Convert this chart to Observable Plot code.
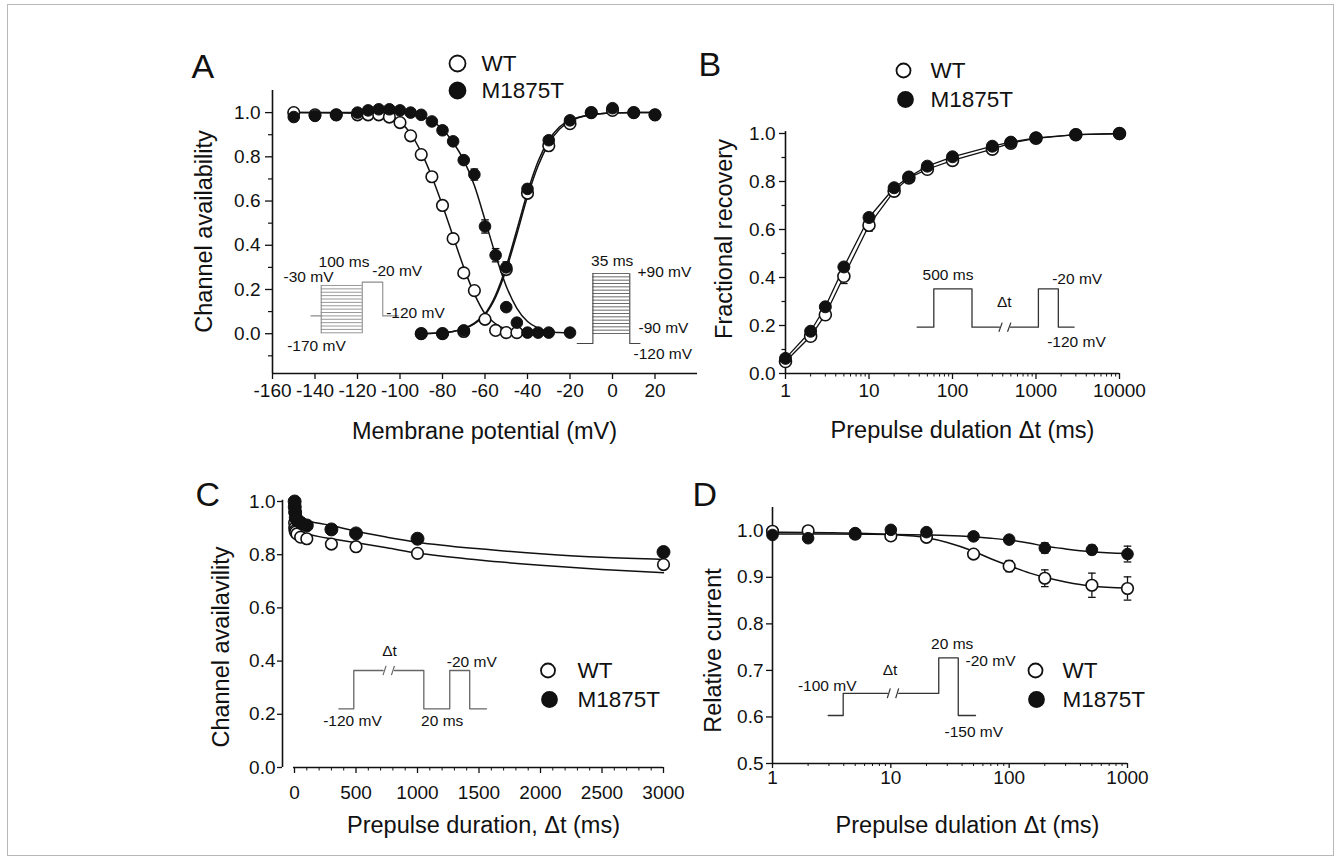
<!DOCTYPE html>
<html>
<head>
<meta charset="utf-8">
<script src="https://cdn.jsdelivr.net/npm/d3@7"></script>
<script src="https://cdn.jsdelivr.net/npm/@observablehq/plot@0.6"></script>
<style>
html,body{margin:0;padding:0;background:#fff;}
#fig{position:relative;width:1341px;height:861px;overflow:hidden;background:#fff;}
#fig svg{position:absolute;left:0;top:0;}
#frame{position:absolute;left:7px;top:4px;width:1327px;height:852px;border:1px solid #b8b8b8;box-sizing:border-box;}
</style>
</head>
<body>
<div id="fig"><div id="frame"></div></div>
<script>
// ================= DATA =================
// Panel A: steady-state inactivation (availability) and activation vs membrane potential (mV)
const aInactV_WT = [-150,-140,-130,-120,-115,-110,-105,-100,-95,-90,-85,-80,-75,-70,-65,-60,-55,-50,-45];
const aInactWT   = [1.00,0.99,0.99,0.99,0.99,0.99,0.98,0.955,0.895,0.81,0.71,0.58,0.43,0.275,0.195,0.065,0.015,0.005,0.005];
const aInactWTErr= [0,0,0,0,0,0,0,0,0,0,0,0.02,0.02,0.015,0,0,0,0,0];
const aInactV_MT = [-150,-140,-130,-120,-115,-110,-105,-100,-95,-90,-85,-80,-75,-70,-65,-60,-55,-50,-45,-40,-35,-30,-20];
const aInactMT   = [0.98,0.985,0.99,1.0,1.01,1.015,1.015,1.01,1.0,0.99,0.96,0.92,0.87,0.785,0.72,0.485,0.355,0.12,0.05,0.005,0.005,0.005,0.005];
const aInactMTErr= [0,0,0,0,0,0,0,0,0,0,0,0,0,0,0.025,0.03,0.03,0,0,0,0,0,0];
const aActV      = [-90,-80,-70,-50,-40,-30,-20,-10,0,10,20];
const aActWT     = [0.0,0.0,0.01,0.29,0.635,0.85,0.95,1.0,1.01,1.0,0.99];
const aActMT     = [0.0,0.0,0.015,0.30,0.655,0.875,0.965,1.0,1.02,1.0,0.99];
const aActMTErr  = [0,0,0,0.025,0.02,0.015,0,0,0,0,0];
// fitted curves
const aFitInactWTV = [-150,-120,-110,-105,-100,-95,-90,-85,-80,-75,-70,-65,-60,-55,-50,-45];
const aFitInactWT  = [1.0,0.997,0.99,0.98,0.957,0.905,0.82,0.71,0.58,0.44,0.30,0.18,0.09,0.045,0.02,0.01];
const aFitInactMTV = [-150,-110,-100,-95,-90,-85,-80,-75,-70,-65,-60,-55,-50,-45,-40,-35,-30,-25,-20];
const aFitInactMT  = [1.0,1.0,0.998,0.993,0.983,0.963,0.925,0.865,0.785,0.67,0.515,0.355,0.215,0.115,0.055,0.025,0.01,0.005,0.002];
const aFitActV     = [-90,-80,-75,-70,-65,-60,-55,-50,-45,-40,-35,-30,-25,-20,-10,0,10,20];
const aFitActWT    = [0.0,0.004,0.01,0.022,0.045,0.085,0.165,0.29,0.45,0.62,0.76,0.86,0.925,0.96,0.99,0.998,1.0,1.0];
const aFitActMT    = [0.0,0.004,0.01,0.024,0.048,0.09,0.175,0.305,0.47,0.64,0.78,0.875,0.935,0.965,0.99,0.998,1.0,1.0];
const aXTicks = [-160,-140,-120,-100,-80,-60,-40,-20,0,20];
const aYTicks = [0,0.2,0.4,0.6,0.8,1.0];
const aYMinor = [-0.1,0.1,0.3,0.5,0.7,0.9];

// Panel B: recovery from inactivation
const bT     = [1,2,3,5,10,20,30,50,100,300,500,1000,3000,10000];
const bWT    = [0.05,0.155,0.245,0.405,0.618,0.76,0.815,0.851,0.888,0.935,0.96,0.98,0.995,1.0];
const bMT    = [0.063,0.176,0.278,0.444,0.65,0.774,0.819,0.864,0.903,0.947,0.964,0.982,0.995,0.999];
const bWTErr = [0,0.01,0.02,0.03,0.025,0.02,0,0,0,0,0,0,0,0];
const bMTErr = [0,0,0.01,0.015,0.01,0.01,0,0,0,0,0,0,0,0];
const bXTicks = [1,10,100,1000,10000];
const bYTicks = [0,0.2,0.4,0.6,0.8,1.0];
const bYMinor = [0.1,0.3,0.5,0.7,0.9];

// Panel C: development of slow inactivation
const cT     = [1,2,5,10,20,50,100,300,500,1000,3000];
const cWT    = [0.92,0.90,0.89,0.885,0.878,0.866,0.86,0.84,0.83,0.805,0.763];
const cMT    = [1.0,0.98,0.96,0.94,0.93,0.92,0.91,0.895,0.88,0.86,0.81];
const cFitT  = [0,20,50,100,200,300,500,750,1000,1500,2000,2500,3000];
const cFitWT = [0.892,0.888,0.884,0.878,0.868,0.86,0.845,0.826,0.806,0.78,0.76,0.744,0.732];
const cFitMT = [0.945,0.94,0.935,0.928,0.918,0.91,0.888,0.866,0.847,0.822,0.804,0.79,0.782];
const cXTicks = [0,500,1000,1500,2000,2500,3000];
const cYTicks = [0,0.2,0.4,0.6,0.8,1.0];

// Panel D: closed-state inactivation
const dT     = [1,2,5,10,20,50,100,200,500,1000];
const dWT    = [0.999,1.0,0.993,0.989,0.986,0.950,0.924,0.898,0.883,0.876];
const dMT    = [0.991,0.984,0.995,1.002,0.997,0.988,0.981,0.963,0.959,0.950];
const dWTErr = [0,0,0,0,0,0.006,0.012,0.018,0.026,0.025];
const dMTErr = [0,0,0,0,0,0,0.004,0.011,0.01,0.017];
const dFitT  = [1,3,10,20,30,50,70,100,150,200,300,500,1000];
const dFitWT = [0.997,0.996,0.992,0.985,0.975,0.956,0.94,0.925,0.909,0.9,0.89,0.881,0.877];
const dFitMT = [0.993,0.993,0.992,0.991,0.99,0.987,0.984,0.98,0.973,0.967,0.961,0.955,0.951];
const dXTicks = [1,10,100,1000];
const dYTicks = [0.5,0.6,0.7,0.8,0.9,1.0];

// Voltage protocols of the insets (schematic time units, mV)
const protA1 = [[[0,-120],[1,-120]], [[1,-170],[1,-30]], [[5,-170],[5,-20],[7,-20],[7,-120],[8.5,-120]]];
const protA1Steps = [-170,-160,-150,-140,-130,-120,-110,-100,-90,-80,-70,-60,-50,-40,-30];
const protA2 = [[[0,-120],[1,-120],[1,90]], [[3.35,90],[3.35,-120],[4,-120]]];
const protA2Steps = [-90,-80,-70,-60,-50,-40,-30,-20,-10,0,10,20,30,40,50,60,70,80,90];
const protB = [[[0,-120],[1,-120],[1,-20],[3.3,-20],[3.3,-120],[4.95,-120]], [[5.62,-120],[7.3,-120],[7.3,-20],[8.5,-20],[8.5,-120],[9.45,-120]]];
const protBBreaks = [{t: 5.02, v: -120}, {t: 5.54, v: -120}];
const protC = [[[0,-120],[1,-120],[1,-20],[2.95,-20]], [[3.7,-20],[5.67,-20],[5.67,-120],[7.4,-120],[7.4,-20],[8.73,-20],[8.73,-120],[9.85,-120]]];
const protCBreaks = [{t: 3.05, v: -20}, {t: 3.61, v: -20}];
const protD = [[[0,-150],[1,-150],[1,-100],[3.95,-100]], [[4.7,-100],[7.37,-100],[7.37,-20],[8.67,-20],[8.67,-150],[9.82,-150]]];
const protDBreaks = [{t: 4.04, v: -100}, {t: 4.6, v: -100}];

// ================= DRAWING =================
const FONT = '"Liberation Sans", Arial, Helvetica, sans-serif';
const W = 1341, H = 861, INK = "#111";

const pts = (xs, ys) => xs.map((x, i) => ({x, y: ys[i]}));
const errs = (xs, ys, es) => xs.map((x, i) => ({x, y: ys[i], e: es[i]})).filter(d => d.e > 0);
const CAP = {draw(ctx, size) { const w = Math.sqrt(size / Math.PI); ctx.moveTo(-w, 0); ctx.lineTo(w, 0); }};
const logMinor = (maxExp) => d3.range(0, maxExp).flatMap(k => [2,3,4,5,6,7,8,9].map(m => m * Math.pow(10, k)));

function base(F, x, y, marks) {
  return Plot.plot({
    width: W, height: H,
    marginLeft: F.l, marginRight: W - F.r, marginTop: F.t, marginBottom: H - F.b,
    x, y,
    style: {fontFamily: FONT, background: "transparent", overflow: "visible", color: INK},
    marks
  });
}
function txt(F, s, px, py, o = {}) {
  return Plot.text([s], {text: d => d, frameAnchor: "top-left", dx: px - F.l, dy: py - F.t,
    lineAnchor: "bottom", fontSize: 15.5, fill: INK, ...o});
}
function legendDot(F, px, py, r, filled) {
  return Plot.dot([0], {frameAnchor: "top-left", dx: px - F.l, dy: py - F.t, r,
    fill: filled ? INK : "#fff", stroke: INK, strokeWidth: 1.8});
}
function errorBars(data) {
  return [
    Plot.ruleX(data, {x: "x", y1: d => d.y - d.e, y2: d => d.y + d.e, stroke: INK, strokeWidth: 1.3}),
    Plot.dot(data, {x: "x", y: d => d.y - d.e, symbol: CAP, r: 3.8, stroke: INK, strokeWidth: 1.3, fill: "none"}),
    Plot.dot(data, {x: "x", y: d => d.y + d.e, symbol: CAP, r: 3.8, stroke: INK, strokeWidth: 1.3, fill: "none"})
  ];
}
const fit = (xs, ys, o = {}) => Plot.line(pts(xs, ys), {x: "x", y: "y", curve: "monotone-x", stroke: INK, strokeWidth: 1.5, ...o});
const openDots = (xs, ys, r) => Plot.dot(pts(xs, ys), {x: "x", y: "y", r, fill: "#fff", stroke: INK, strokeWidth: 1.6});
const fillDots = (xs, ys, r) => Plot.dot(pts(xs, ys), {x: "x", y: "y", r, fill: INK, stroke: INK, strokeWidth: 1});
const fmt1 = d => d.toFixed(1);
const fmtInt = d => String(d);
const legend = (F, cx1, cy1, cx2, cy2, tx, r1, r2, fs) => [
  legendDot(F, cx1, cy1, r1, false), txt(F, "WT", tx, cy1 + 7.5, {fontSize: fs, textAnchor: "start"}),
  legendDot(F, cx2, cy2, r2, true),  txt(F, "M1875T", tx, cy2 + 7, {fontSize: fs, textAnchor: "start"})
];

// ---------- Panel A ----------
const FA = {l: 272, r: 697, t: 90, b: 373};
const plotA = base(FA, {domain: [-160, 40]}, {domain: [-0.18, 1.1]}, [
  Plot.ruleX([-160], {y1: -0.18, y2: 1.1, stroke: INK, strokeWidth: 1.6}),
  Plot.ruleY([-0.18], {x1: -160, x2: 40, stroke: INK, strokeWidth: 1.6}),
  Plot.axisY({ticks: aYTicks, tickSize: 7, tickPadding: 5, fontSize: 19, tickFormat: fmt1, label: null, strokeWidth: 1.3}),
  Plot.axisY({ticks: aYMinor, tickSize: 4, tickFormat: () => "", label: null, strokeWidth: 1.2}),
  Plot.axisX({ticks: aXTicks, tickSize: 6, tickPadding: 4, fontSize: 19, tickFormat: fmtInt, label: null, strokeWidth: 1.3}),
  fit(aFitInactWTV, aFitInactWT),
  fit(aFitInactMTV, aFitInactMT),
  fit(aFitActV, aFitActWT),
  fit(aFitActV, aFitActMT),
  ...errorBars(errs(aInactV_WT, aInactWT, aInactWTErr)),
  ...errorBars(errs(aInactV_MT, aInactMT, aInactMTErr)),
  ...errorBars(errs(aActV, aActMT, aActMTErr)),
  openDots(aInactV_WT, aInactWT, 5.8),
  openDots(aActV, aActWT, 5.8),
  fillDots(aInactV_MT, aInactMT, 5.8),
  fillDots(aActV, aActMT, 5.8),
  txt(FA, "A", 191, 77, {fontSize: 34, textAnchor: "start"}),
  txt(FA, "Channel availability", 211, 231, {fontSize: 23.5, rotate: -90, textAnchor: "middle"}),
  txt(FA, "Membrane potential (mV)", 484, 438, {fontSize: 23.5, textAnchor: "middle"}),
  ...legend(FA, 457, 63, 457, 90, 481, 8, 8, 22.5)
]);

// ---------- Panel B ----------
const FB = {l: 785, r: 1119, t: 133, b: 373};
const plotB = base(FB, {type: "log", domain: [1, 10000]}, {domain: [0, 1]}, [
  Plot.ruleX([1], {y1: 0, y2: 1.008, stroke: INK, strokeWidth: 1.6}),
  Plot.ruleY([0], {x1: 1, x2: 10000, stroke: INK, strokeWidth: 1.6}),
  Plot.axisY({ticks: bYTicks, tickSize: 6, tickPadding: 4, fontSize: 19, tickFormat: fmt1, label: null, strokeWidth: 1.3}),
  Plot.axisY({ticks: bYMinor, tickSize: 3.5, tickFormat: () => "", label: null, strokeWidth: 1.2}),
  Plot.axisX({ticks: bXTicks, tickSize: 6, tickPadding: 4, fontSize: 19, tickFormat: fmtInt, label: null, strokeWidth: 1.3}),
  Plot.axisX({ticks: logMinor(4), tickSize: 3.5, tickFormat: () => "", label: null, strokeWidth: 1}),
  Plot.line(pts(bT, bWT), {x: "x", y: "y", stroke: INK, strokeWidth: 1.3}),
  Plot.line(pts(bT, bMT), {x: "x", y: "y", stroke: INK, strokeWidth: 1.3}),
  ...errorBars(errs(bT, bWT, bWTErr)),
  ...errorBars(errs(bT, bMT, bMTErr)),
  openDots(bT, bWT, 6),
  fillDots(bT, bMT, 6),
  txt(FB, "B", 698, 75, {fontSize: 34, textAnchor: "start"}),
  txt(FB, "Fractional recovery", 731, 238.5, {fontSize: 23.5, rotate: -90, textAnchor: "middle"}),
  txt(FB, "Prepulse dulation \u0394t (ms)", 962, 437, {fontSize: 23.5, textAnchor: "middle"}),
  ...legend(FB, 903, 70, 905, 99, 930, 7, 7.5, 22.5)
]);

// ---------- Panel C ----------
const FC = {l: 282, r: 663, t: 501, b: 767};
const plotC = base(FC, {domain: [-97.6, 3000]}, {domain: [0, 1]}, [
  Plot.ruleX([-97.6], {y1: 0, y2: 1.005, stroke: INK, strokeWidth: 1.6}),
  Plot.ruleY([0], {x1: -8, x2: 3000, stroke: INK, strokeWidth: 1.6}),
  Plot.axisY({ticks: cYTicks, tickSize: 5, tickPadding: 2, fontSize: 19, tickFormat: fmt1, label: null, strokeWidth: 1.3}),
  Plot.axisX({ticks: cXTicks, tickSize: 6, tickPadding: 12, fontSize: 19, tickFormat: fmtInt, label: null, strokeWidth: 1.3}),
  Plot.axisX({ticks: d3.range(100, 3000, 100).filter(d => d % 500 !== 0), tickSize: 3.5, tickFormat: () => "", label: null, strokeWidth: 1}),
  fit(cFitT, cFitWT),
  fit(cFitT, cFitMT),
  openDots(cT, cWT, 5.8),
  fillDots(cT, cMT, 6.5),
  txt(FC, "C", 195, 505, {fontSize: 34, textAnchor: "start"}),
  txt(FC, "Channel availavility", 228, 646.5, {fontSize: 23.5, rotate: -90, textAnchor: "middle"}),
  txt(FC, "Prepulse duration, \u0394t (ms)", 483, 832, {fontSize: 23.5, textAnchor: "middle"}),
  ...legend(FC, 547.5, 670, 549, 699, 577, 7, 7.5, 22.5)
]);

// ---------- Panel D ----------
const FD = {l: 772, r: 1127, t: 507, b: 763};
const plotD = base(FD, {type: "log", domain: [1, 1000]}, {domain: [0.5, 1.05]}, [
  Plot.ruleX([1], {y1: 0.5, y2: 1.05, stroke: INK, strokeWidth: 1.6}),
  Plot.ruleY([0.5], {x1: 1, x2: 1000, stroke: INK, strokeWidth: 1.6}),
  Plot.axisY({ticks: dYTicks, tickSize: 6, tickPadding: 3, fontSize: 19, tickFormat: fmt1, label: null, strokeWidth: 1.3}),
  Plot.axisX({ticks: dXTicks, tickSize: 5, tickPadding: 2, fontSize: 19, tickFormat: fmtInt, label: null, strokeWidth: 1.3}),
  Plot.axisX({ticks: logMinor(3), tickSize: 3, tickFormat: () => "", label: null, strokeWidth: 1}),
  fit(dFitT, dFitWT),
  fit(dFitT, dFitMT),
  ...errorBars(errs(dT, dWT, dWTErr)),
  ...errorBars(errs(dT, dMT, dMTErr)),
  openDots(dT, dWT, 5.8),
  fillDots(dT, dMT, 5.8),
  txt(FD, "D", 692, 505, {fontSize: 34, textAnchor: "start"}),
  txt(FD, "Relative current", 720, 650, {fontSize: 23.5, rotate: -90, textAnchor: "middle"}),
  txt(FD, "Prepulse dulation \u0394t (ms)", 967, 832, {fontSize: 23.5, textAnchor: "middle"}),
  ...legend(FD, 1035, 670, 1036, 699, 1062, 7, 7.5, 22.5)
]);

// ---------- Insets (voltage protocols) ----------
function protoMarks(segs, stroke, sw) {
  const flat = segs.flatMap((s, i) => s.map(([t, v]) => ({t, v, s: i})));
  return Plot.line(flat, {x: "t", y: "v", z: "s", stroke, strokeWidth: sw});
}
function breakMarks(br, dt, dv, stroke, sw) {
  return Plot.link(br, {x1: d => d.t - dt, x2: d => d.t + dt, y1: d => d.v - dv, y2: d => d.v + dv, stroke, strokeWidth: sw});
}
const inset = (F, xd, yd, marks) => base(F, {domain: xd, axis: null}, {domain: yd, axis: null}, marks);

const FA1 = {l: 310.5, r: 413, t: 281.6, b: 332.3};
const insA1 = inset(FA1, [0, 10], [-170, -20], [
  protoMarks(protA1, "#8c8c8c", 1.1),
  Plot.ruleY(protA1Steps, {x1: 1, x2: 5, stroke: "#8c8c8c", strokeWidth: 0.9}),
  txt(FA1, "100 ms", 343.5, 266.7, {textAnchor: "middle"}),
  txt(FA1, "-30 mV", 308, 281.7, {textAnchor: "middle"}),
  txt(FA1, "-20 mV", 396.7, 275, {textAnchor: "middle"}),
  txt(FA1, "-120 mV", 415, 317, {textAnchor: "middle"}),
  txt(FA1, "-170 mV", 316, 350.5, {textAnchor: "middle"})
]);

const FA2 = {l: 576.7, r: 639.5, t: 273, b: 343};
const insA2 = inset(FA2, [0, 4], [-120, 90], [
  protoMarks(protA2, "#444", 1.1),
  Plot.ruleY(protA2Steps, {x1: 1, x2: 3.35, stroke: "#444", strokeWidth: 0.8}),
  txt(FA2, "35 ms", 611.7, 265, {textAnchor: "middle"}),
  txt(FA2, "+90 mV", 637, 276, {textAnchor: "start"}),
  txt(FA2, "-90 mV", 638, 332, {textAnchor: "start"}),
  txt(FA2, "-120 mV", 633, 358, {textAnchor: "start"})
]);

const FBi = {l: 916.7, r: 1073.6, t: 288.3, b: 326.7};
const insB = inset(FBi, [0, 9.45], [-120, -20], [
  protoMarks(protB, "#333", 1.3),
  breakMarks(protBBreaks, 0.1, 12, "#333", 1.2),
  txt(FBi, "500 ms", 947.5, 279, {textAnchor: "middle"}),
  txt(FBi, "\u0394t", 1003.8, 306.7, {textAnchor: "middle"}),
  txt(FBi, "-20 mV", 1051.7, 283, {textAnchor: "start"}),
  txt(FBi, "-120 mV", 1046.7, 346.7, {textAnchor: "start"})
]);

const FCi = {l: 338.3, r: 486, t: 670, b: 708.3};
const insC = inset(FCi, [0, 9.85], [-120, -20], [
  protoMarks(protC, "#666", 1.3),
  breakMarks(protCBreaks, 0.1, 12, "#666", 1.2),
  txt(FCi, "\u0394t", 389, 655, {textAnchor: "middle"}),
  txt(FCi, "-20 mV", 471.3, 666.7, {textAnchor: "middle"}),
  txt(FCi, "-120 mV", 352, 725, {textAnchor: "middle"}),
  txt(FCi, "20 ms", 441.7, 725, {textAnchor: "middle"})
]);

const FDi = {l: 827.7, r: 975, t: 657.3, b: 715};
const insD = inset(FDi, [0, 9.82], [-150, -20], [
  protoMarks(protD, "#333", 1.3),
  breakMarks(protDBreaks, 0.1, 11, "#333", 1.2),
  txt(FDi, "-100 mV", 826.7, 690, {textAnchor: "middle"}),
  txt(FDi, "\u0394t", 889.5, 674, {textAnchor: "middle"}),
  txt(FDi, "20 ms", 951.7, 648, {textAnchor: "middle"}),
  txt(FDi, "-20 mV", 990, 665, {textAnchor: "middle"}),
  txt(FDi, "-150 mV", 973.3, 736.7, {textAnchor: "middle"})
]);

const fig = document.getElementById("fig");
[insA1, insA2, insB, insC, insD, plotA, plotB, plotC, plotD].forEach(p => fig.appendChild(p));
</script>
</body>
</html>
